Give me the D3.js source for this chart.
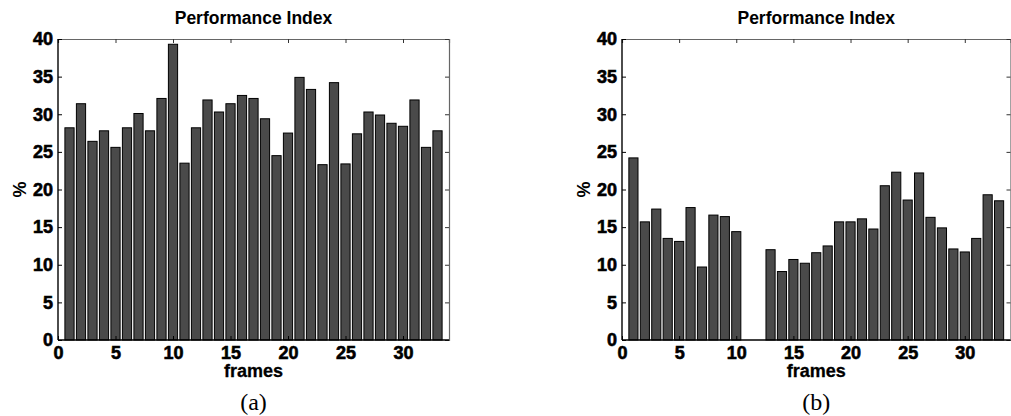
<!DOCTYPE html>
<html>
<head>
<meta charset="utf-8">
<script src="https://cdn.jsdelivr.net/npm/d3@7"></script>
<style>
  html, body { margin: 0; padding: 0; background: #fff; }
  svg { display: block; }
</style>
</head>
<body>
<svg id="chart" width="1011" height="416"></svg>
<script>
// ---- data ----
const frames = d3.range(1, 34);
const seriesA = [28.2, 31.4, 26.4, 27.8, 25.6, 28.2, 30.1, 27.8, 32.1, 39.3,
                 23.5, 28.2, 31.9, 30.3, 31.4, 32.5, 32.1, 29.4, 24.5, 27.5,
                 34.9, 33.3, 23.3, 34.2, 23.4, 27.4, 30.3, 29.9, 28.8, 28.4,
                 31.9, 25.6, 27.8];
const seriesB = [24.2, 15.7, 17.4, 13.5, 13.1, 17.6, 9.7, 16.6, 16.4, 14.4,
                 0, 0, 12.0, 9.1, 10.7, 10.2, 11.6, 12.5, 15.7, 15.7,
                 16.1, 14.75, 20.5, 22.3, 18.6, 22.2, 16.3, 14.9, 12.1, 11.7,
                 13.5, 19.3, 18.5];
const xTicks = [0, 5, 10, 15, 20, 25, 30];
const yTicks = [0, 5, 10, 15, 20, 25, 30, 35, 40];
const titleText = "Performance Index";
const xLabel = "frames";
const yLabel = "%";
const panelLabels = ["(a)", "(b)"];

// ---- drawing ----
const svg = d3.select("#chart");
const sans = "Arial, 'Liberation Sans', Helvetica, sans-serif";
const serif = "'Times New Roman', 'Liberation Serif', Times, serif";

const panels = [
  { values: seriesA, left: 58, right: 449, label: panelLabels[0] },
  { values: seriesB, left: 622, right: 1010.5, label: panelLabels[1] }
];
const plotTop = 39, plotBottom = 340;

panels.forEach(p => {
  const x = d3.scaleLinear().domain([0, 34]).range([p.left, p.right]);
  const y = d3.scaleLinear().domain([0, 40]).range([plotBottom, plotTop]);
  const g = svg.append("g");
  const cx = (p.left + p.right) / 2;

  // bars
  g.selectAll("rect.bar").data(frames).enter().append("rect")
    .attr("class", "bar")
    .attr("x", d => x(d - 0.4))
    .attr("width", d => x(d + 0.4) - x(d - 0.4))
    .attr("y", (d, i) => y(p.values[i]))
    .attr("height", (d, i) => y(0) - y(p.values[i]))
    .attr("fill", "#4a4a4a")
    .attr("stroke", "#000")
    .attr("stroke-width", 1);

  // top and right axes (ticks only)
  const topAx = g.append("g").attr("transform", `translate(0,${plotTop})`)
    .call(d3.axisTop(x).tickValues(xTicks).tickSize(-4).tickFormat(""));
  const rightAx = g.append("g").attr("transform", `translate(${p.right},0)`)
    .call(d3.axisRight(y).tickValues(yTicks).tickSize(-4).tickFormat(""));
  [topAx, rightAx].forEach(a => {
    a.selectAll("path").attr("stroke", "#666").attr("stroke-width", 1.2);
    a.selectAll("line").attr("stroke", "#333");
  });

  // bottom and left axes
  const xAx = g.append("g").attr("transform", `translate(0,${plotBottom})`)
    .call(d3.axisBottom(x).tickValues(xTicks).tickSize(-4).tickPadding(6).tickFormat(d3.format("d")));
  const yAx = g.append("g").attr("transform", `translate(${p.left},0)`)
    .call(d3.axisLeft(y).tickValues(yTicks).tickSize(-4).tickPadding(5).tickFormat(d3.format("d")));
  [xAx, yAx].forEach(a => {
    a.selectAll("path").attr("stroke", "#000").attr("stroke-width", 1.4);
    a.selectAll("line").attr("stroke", "#000");
    a.selectAll("text").attr("font-family", sans).attr("font-weight", "bold")
      .attr("font-size", 18).attr("fill", "#000")
      .attr("stroke", "#000").attr("stroke-width", 0.6);
  });
  xAx.select(".domain").attr("d", `M${p.left},0H${p.right}`);
  yAx.select(".domain").attr("d", `M0,${plotTop}V${plotBottom}`);

  // title
  g.append("text").attr("x", cx).attr("y", 24).attr("text-anchor", "middle")
    .attr("font-family", sans).attr("font-weight", "bold").attr("font-size", 17.5)
    .text(titleText);
  // x label
  g.append("text").attr("x", cx).attr("y", 377).attr("text-anchor", "middle")
    .attr("font-family", sans).attr("font-weight", "bold").attr("font-size", 18)
    .attr("stroke", "#000").attr("stroke-width", 0.3)
    .text(xLabel);
  // y label
  g.append("text").attr("transform", `translate(${p.left - 38},${(plotTop + plotBottom) / 2}) rotate(-90)`)
    .attr("text-anchor", "middle").attr("dy", "0.35em")
    .attr("font-family", sans).attr("font-weight", "bold").attr("font-size", 18)
    .text(yLabel);
  // panel label
  g.append("text").attr("x", cx).attr("y", 410).attr("text-anchor", "middle")
    .attr("font-family", serif).attr("font-size", 24)
    .text(p.label);
});
</script>
</body>
</html>
